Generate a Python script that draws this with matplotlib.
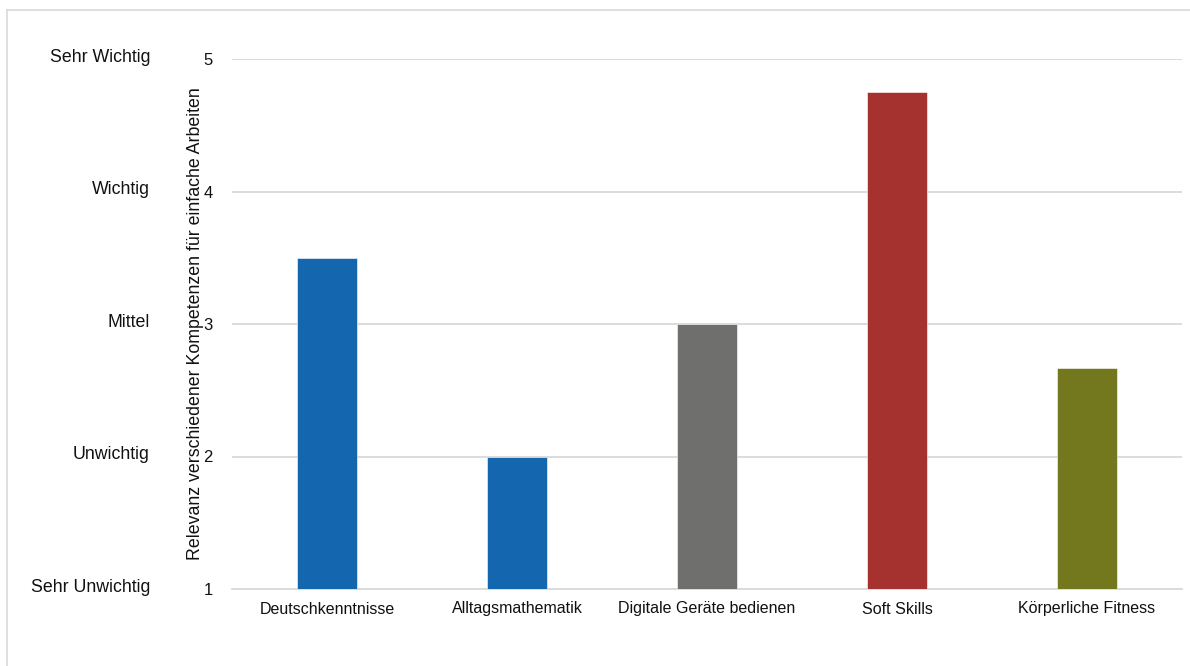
import matplotlib
matplotlib.use("Agg")
import matplotlib.pyplot as plt
from matplotlib.lines import Line2D

plt.rcParams["font.family"] = ["Liberation Sans", "DejaVu Sans"]

# Mean rating per competence (1 = sehr unwichtig ... 5 = sehr wichtig)
categories = ["Deutschkenntnisse", "Alltagsmathematik", "Digitale Geräte bedienen",
              "Soft Skills", "Körperliche Fitness"]
values = [3.5, 2.0, 3.0, 4.75, 2.67]
bar_colors = ["#1467AE", "#1467AE", "#6F6F6D", "#A63230", "#73771E"]

scale_ticks = [1, 2, 3, 4, 5]
scale_labels = ["Sehr Unwichtig", "Unwichtig", "Mittel", "Wichtig", "Sehr Wichtig"]

W, H = 1190, 666
fig = plt.figure(figsize=(W / 100, H / 100), dpi=100)
ax = fig.add_axes([232 / W, 1 - 589 / H, 950 / W, 530 / H])

x = range(len(categories))
ax.bar(x, [v - 1 for v in values], bottom=1, width=0.316, color=bar_colors,
       edgecolor="white", linewidth=0.4, zorder=3)

ax.set_xlim(-0.5, len(categories) - 0.5)
ax.set_ylim(1, 5)
ax.set_yticks(scale_ticks)
ax.set_xticks(list(x))
ax.set_xticklabels(categories, fontsize=11.5, color="#111111")
ax.tick_params(axis="both", length=0, colors="#111111")
ax.tick_params(axis="y", pad=14, labelsize=12)
ax.tick_params(axis="x", pad=9)
ax.grid(axis="y", color="#D9D9D9", linewidth=1.3, zorder=0)
for side in ["top", "right", "left"]:
    ax.spines[side].set_visible(False)
ax.spines["bottom"].set_color("#D9D9D9")
ax.spines["bottom"].set_linewidth(1.3)

ax.set_ylabel("Relevanz verschiedener Kompetenzen für einfache Arbeiten",
              fontsize=12.8, color="#111111")
ax.yaxis.set_label_coords(-0.03, 0.5)

# verbal scale labels to the left of the numeric ticks
for t, lab in zip(scale_ticks, scale_labels):
    ax.text(-82 / 950, t + 0.015, lab, transform=ax.get_yaxis_transform(),
            ha="right", va="center", fontsize=12.8, color="#111111")

# light frame around the chart area
fig.add_artist(Line2D([7 / W, 1.0], [1 - 10 / H] * 2, color="#D9D9D9", linewidth=1.2))
fig.add_artist(Line2D([7 / W] * 2, [0.0, 1 - 10 / H], color="#D9D9D9", linewidth=1.2))

fig.savefig("out.png", dpi=100, facecolor="white")
